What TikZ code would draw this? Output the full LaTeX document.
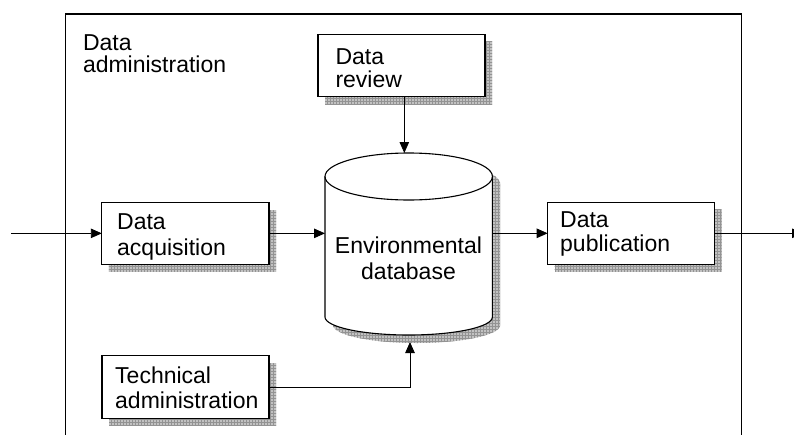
\documentclass[tikz,border=0pt]{standalone}
\usepackage{fontspec}
\setmainfont{Liberation Sans}
\usetikzlibrary{arrows.meta,patterns,shadows}

% two-line labels: first-line baseline is the node baseline
\newcommand\twolines[3][0pt]{\begin{tabular}[t]{@{}l@{}}#2\\[#1]#3\end{tabular}}
\newcommand\twolinesc[3][0pt]{\begin{tabular}[t]{@{}c@{}}#2\\[#1]#3\end{tabular}}

\begin{document}
\begin{tikzpicture}[x=1pt,y=-1pt,
  every node/.style={inner sep=0pt, outer sep=0pt},
  lbl/.style={font=\fontsize{23}{22.5}\selectfont, anchor=base west},
  shadowfill/.style={fill=gray!48},
  shadowgrid/.style={pattern=grid, pattern color=gray!85},
  procbox/.style={draw, line width=1.1pt, fill=white, anchor=north west,
    general shadow={shadow xshift=7pt, shadow yshift=-7.5pt, shadowfill},
    general shadow={shadow xshift=7pt, shadow yshift=-7.5pt, shadowgrid}},
  arr/.style={line width=0.9pt, -{Triangle[length=11pt,width=9.5pt]}},
  outline/.style={line width=1.1pt}]

\useasboundingbox (0,0) rectangle (794,434);

% enclosing frame, open towards the bottom edge
\node[draw, line width=1.2pt, anchor=north west, minimum width=676.4pt,
      minimum height=440pt] (frame) at (65.3,14) {};

% database cylinder: shadow first, then the body
\begin{scope}[shift={(8,8)}]
  \fill[shadowfill] (325,176.5) -- (325,317)
    arc[start angle=180, end angle=0, x radius=83.7, y radius=18]
    -- (492.4,176.5) -- cycle;
  \fill[shadowfill] (408.7,176.5) ellipse[x radius=83.7, y radius=23.5];
  \fill[shadowgrid] (325,176.5) -- (325,317)
    arc[start angle=180, end angle=0, x radius=83.7, y radius=18]
    -- (492.4,176.5) -- cycle;
  \fill[shadowgrid] (408.7,176.5) ellipse[x radius=83.7, y radius=23.5];
\end{scope}
\fill[white] (325,176.5) -- (325,317)
  arc[start angle=180, end angle=0, x radius=83.7, y radius=18]
  -- (492.4,176.5) -- cycle;
\fill[white] (408.7,176.5) ellipse[x radius=83.7, y radius=23.5];
\draw[outline] (325,176.5) -- (325,317)
  arc[start angle=180, end angle=0, x radius=83.7, y radius=18]
  -- (492.4,176.5);
\draw[outline] (408.7,176.5) ellipse[x radius=83.7, y radius=23.5];
\node[minimum width=167.4pt, minimum height=182pt, anchor=north west] (db) at (325,153) {};
\node[lbl, anchor=base] (dbtxt) at (408.5,253.3) {\twolinesc[3.2pt]{Environmental}{database}};

% process boxes
\node[procbox, minimum width=167pt, minimum height=62.4pt] (rev)  at (318,34.3) {};
\node[procbox, minimum width=167.2pt, minimum height=61.7pt] (acq) at (101.8,202.5) {};
\node[procbox, minimum width=167pt, minimum height=62pt] (pub)  at (547.7,202.3) {};
\node[procbox, minimum width=167pt, minimum height=62.5pt] (tech) at (102,355.7) {};

% labels
\node[lbl] (title)   at (83,50)      {\twolines[-0.8pt]{Data}{administration}};
\node[lbl] (revtxt)  at (335.5,64)   {\twolines[0.2pt]{Data}{review}};
\node[lbl] (acqtxt)  at (117.2,229.3) {\twolines[2.5pt]{Data}{acquisition}};
\node[lbl] (pubtxt)  at (560.2,227.7) {\twolines[0.8pt]{Data}{publication}};
\node[lbl] (techtxt) at (115.2,383.3) {\twolines[1.5pt]{Technical}{administration}};

% flow connectors
\coordinate (src)  at (11,0);
\coordinate (sink) at (803,0);
\draw[arr] (acq.west -| src) -- (acq.west);
\draw[arr] (acq.east) -- (acq.east -| db.west);
\draw[arr] (pub.west -| db.east) -- (pub.west);
\draw[arr] (pub.east) -- (pub.east -| sink);
\draw[arr] ([xshift=2.8pt]rev.south) -- ([xshift=2.8pt]rev.south |- db.north);
\draw[arr] (tech.east) -| ([xshift=1.3pt,yshift=-7pt]db.south);
\end{tikzpicture}
\end{document}
